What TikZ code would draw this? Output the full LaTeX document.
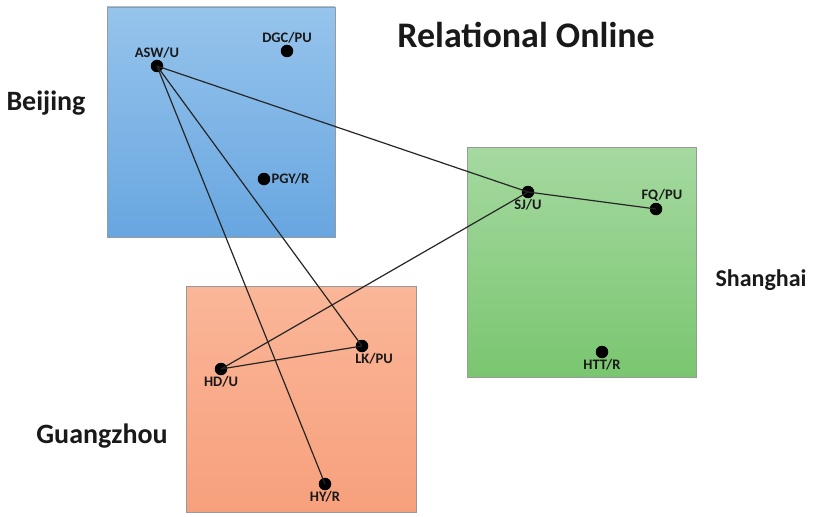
\documentclass[tikz,border=0pt]{standalone}
\usepackage{fontspec}
\setmainfont{Carlito}
\usetikzlibrary{positioning}

\definecolor{bjtop}{RGB}{150,196,236}
\definecolor{bjbot}{RGB}{104,166,224}
\definecolor{shtop}{RGB}{165,217,160}
\definecolor{shbot}{RGB}{122,198,112}
\definecolor{gztop}{RGB}{250,182,152}
\definecolor{gzbot}{RGB}{247,160,124}

\begin{document}
\begin{tikzpicture}[
        x=1pt, y=-1pt,
        region/.style={draw=gray!80, line width=0.8pt},
        person/.style={circle, fill=black, inner sep=0pt, minimum size=12.5pt},
        plabel/.style={font=\fontsize{14.5}{16}\selectfont\bfseries, text=black!90, inner sep=1pt},
        city/.style={font=\fontsize{28}{30}\selectfont\bfseries, text=black!90},
        tie/.style={draw=black!85, line width=1.2pt}
    ]
    \useasboundingbox (0,0) rectangle (826,516);

    % Regions
    \draw [region, top color=bjtop, bottom color=bjbot] (107,7) rectangle (335,237);
    \draw [region, top color=shtop, bottom color=shbot] (467,147) rectangle (696,377);
    \draw [region, top color=gztop, bottom color=gzbot] (186,286) rectangle (416,512);

    \node (title) [font=\fontsize{36}{38}\selectfont\bfseries, text=black!90] at (526,35) {Relational Online};
    \node (beijing) [city] at (46,103) {Beijing};
    \node (shanghai) [city, font=\fontsize{24}{26}\selectfont\bfseries] at (761,280) {Shanghai};
    \node (guangzhou) [city] at (102,436) {Guangzhou};

    % Nodes
    \node (asw) [person, label={[plabel]above:ASW/U}] at (157,66) {};
    \node (dgc) [person, label={[plabel]above:DGC/PU}] at (287,51) {};
    \node (pgy) [person, label={[plabel]right:PGY/R}] at (264,179) {};
    \node (sj) [person, label={[plabel]below:SJ/U}] at (528,192) {};
    \node (fq) [person, label={[plabel, xshift=6pt]above:FQ/PU}] at (656,209) {};
    \node (htt) [person, label={[plabel]below:HTT/R}] at (602,352) {};
    \node (hd) [person, label={[plabel]below:HD/U}] at (221,369) {};
    \node (lk) [person, label={[plabel, xshift=12pt]below:LK/PU}] at (362,346) {};
    \node (hy) [person, label={[plabel]below:HY/R}] at (325,484) {};

    % Ties
    \draw [tie] (asw.center) -- (sj.center);
    \draw [tie] (asw.center) -- (lk.center);
    \draw [tie] (asw.center) -- (hy.center);
    \draw [tie] (sj.center) -- (fq.center);
    \draw [tie] (sj.center) -- (hd.center);
    \draw [tie] (hd.center) -- (lk.center);

\end{tikzpicture}
\end{document}
